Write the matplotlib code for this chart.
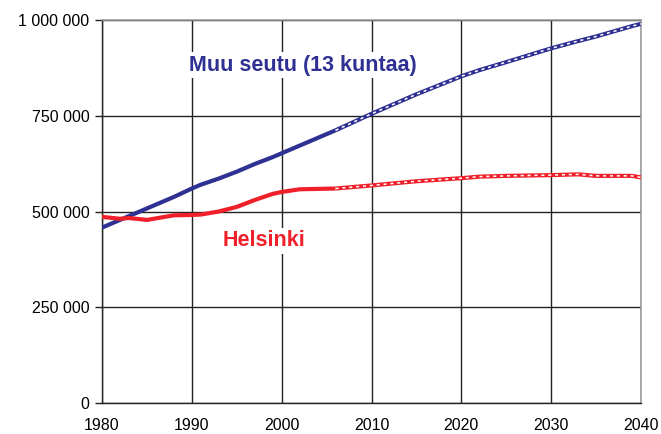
import matplotlib.pyplot as plt
from matplotlib.ticker import FuncFormatter

# Väestö 1980-2006 (toteutunut) ja ennuste 2006-2040, tuhatta asukasta
vuodet = [1980, 1982, 1983, 1985, 1988, 1990, 1991, 1993, 1995, 1997, 1999, 2000, 2002, 2004, 2006]
muu_seutu = [458, 478, 488, 508, 538, 560, 570, 586, 604, 624, 642, 652, 672, 692, 712]
helsinki = [486, 481, 483, 478, 490, 491, 492, 500, 512, 530, 546, 551, 558, 559, 560]

ennuste_vuodet = [2006, 2010, 2015, 2020, 2022, 2025, 2030, 2033, 2035, 2039, 2040]
muu_seutu_ennuste = [712, 755, 806, 853, 869, 890, 926, 945, 957, 984, 990]
helsinki_ennuste = [560, 568, 579, 587, 591, 593, 595, 597, 593, 593, 589]

y_ticks = [0, 250000, 500000, 750000, 1000000]
x_ticks = [1980, 1990, 2000, 2010, 2020, 2030, 2040]

sininen = '#2E3192'
punainen = '#F0202A'

plt.rcParams['font.family'] = ['Liberation Sans', 'DejaVu Sans']

fig = plt.figure(figsize=(6.61, 4.34), dpi=100)
ax = fig.add_axes([102 / 661, 31 / 434, 539 / 661, 383 / 434])

ax.plot(vuodet, [v * 1000 for v in muu_seutu], color=sininen, lw=3, solid_capstyle='butt', zorder=3)
ax.plot(vuodet, [v * 1000 for v in helsinki], color=punainen, lw=3, solid_capstyle='butt', zorder=3)

for arvot, vari in [(muu_seutu_ennuste, sininen), (helsinki_ennuste, punainen)]:
    yy = [v * 1000 for v in arvot]
    ax.plot(ennuste_vuodet, yy, color=vari, lw=3, solid_capstyle='butt', zorder=3)
    ax.plot(ennuste_vuodet, yy, color='white', lw=1.1, linestyle=(0, (2, 2.5)), zorder=4)

ax.set_xlim(1980, 2040)
ax.set_ylim(0, 1000000)
ax.set_xticks(x_ticks)
ax.set_yticks(y_ticks)
ax.yaxis.set_major_formatter(FuncFormatter(lambda v, p: f'{int(v):,}'.replace(',', ' ')))
ax.tick_params(axis='y', length=5, width=1, color='#222222', labelsize=11.5, pad=4)
ax.tick_params(axis='x', length=0, labelsize=11.5, pad=11)
ax.grid(True, color='#222222', linewidth=1.0)
ax.set_axisbelow(True)

for s in ['left', 'bottom']:
    ax.spines[s].set_color('#222222')
    ax.spines[s].set_linewidth(1.0)
for s in ['top', 'right']:
    ax.spines[s].set_color('#999999')
    ax.spines[s].set_linewidth(1.1)

ax.text(2002.4, 882000, 'Muu seutu (13 kuntaa)', color=sininen, fontsize=15.5, fontweight='bold',
        ha='center', va='center', zorder=5,
        bbox=dict(facecolor='white', edgecolor='none', pad=2))
ax.text(1998.0, 423000, 'Helsinki', color=punainen, fontsize=15.5, fontweight='bold',
        ha='center', va='center', zorder=5,
        bbox=dict(facecolor='white', edgecolor='none', pad=2))

fig.savefig('out.png', dpi=100)
